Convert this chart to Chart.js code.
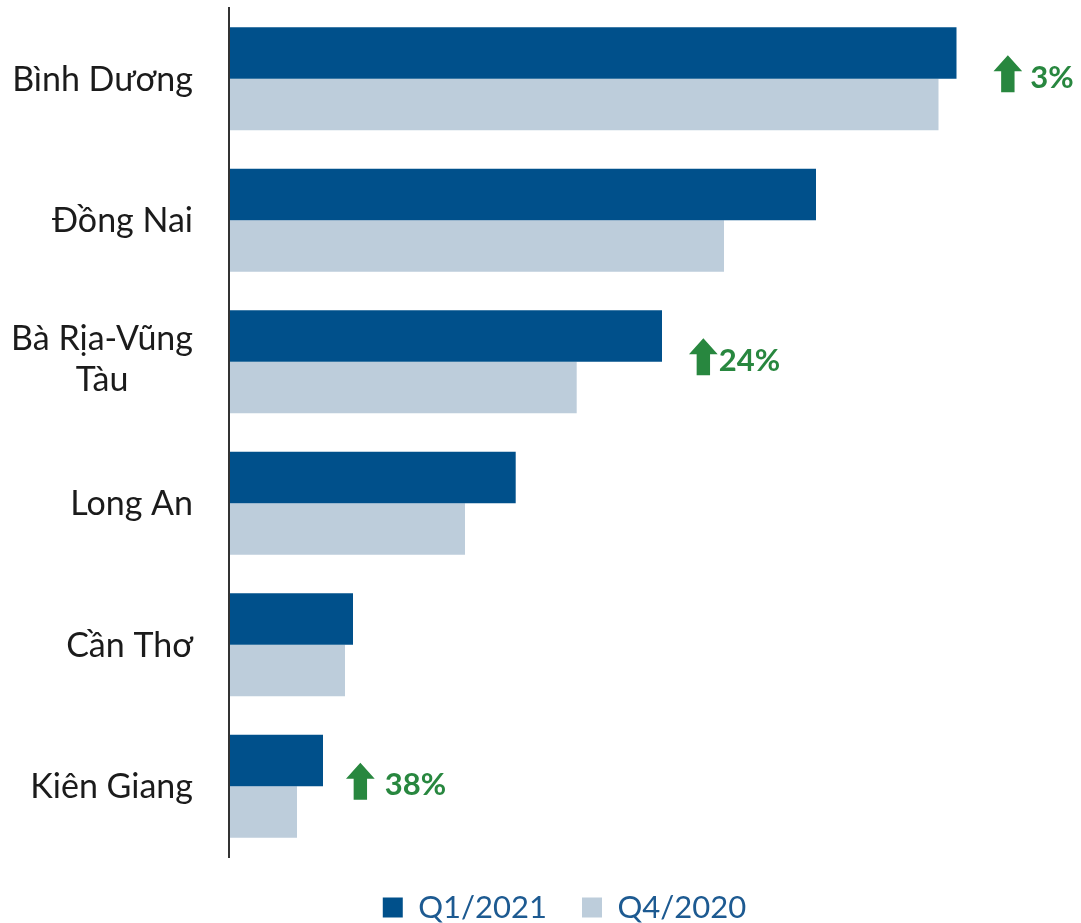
<!DOCTYPE html>
<html><head><meta charset="utf-8">
<script src="https://cdn.jsdelivr.net/npm/chart.js@4"></script>
<style>html,body{margin:0;padding:0;background:#fff;overflow:hidden}
#wrap{width:1081px;height:923px;position:relative}</style></head>
<body><div id="wrap"><canvas id="c" width="1081" height="923"></canvas></div>
<script>
// ---- data ----
const categories = ['Bình Dương', 'Đồng Nai', ['Bà Rịa-Vũng', 'Tàu'], 'Long An', 'Cần Thơ', 'Kiên Giang'];
const seriesNames = ['Q1/2021', 'Q4/2020'];
const q1_2021 = [727.5, 587, 433, 286.7, 124, 94];
const q4_2020 = [709.5, 495, 347.7, 236, 116, 68];
const changeIndex = [0, 2, 5];
const changeText = ['3%', '24%', '38%'];
const axisMax = 852;

// ---- styles ----
const annotationOffsets = [{dx: 37, gap: 8}, {dx: 27, gap: 1}, {dx: 23, gap: 10}];
const DARK = '#00508B', LIGHT = '#BDCDDB', GREEN = '#28873F';

const labelPlugin = {
  id: 'catLabels',
  afterDraw(chart) {
    const ctx = chart.ctx, y = chart.scales.y, left = chart.chartArea.left;
    ctx.save();
    ctx.font = '34px Lato';
    ctx.fillStyle = '#1b1b1b';
    ctx.textBaseline = 'alphabetic';
    chart.data.labels.forEach((lab, i) => {
      const lines = Array.isArray(lab) ? lab : [lab];
      const yc = y.getPixelForValue(i);
      const n = lines.length, lh = 41, shift = n > 1 ? -3 : 0;
      const widest = Math.max(...lines.map(l => ctx.measureText(l).width));
      const xr = left - 36;
      lines.forEach((l, j) => {
        const base = yc + 11.8 + (j - (n - 1) / 2) * lh + shift;
        if (n > 1) { ctx.textAlign = 'center'; ctx.fillText(l, xr - widest / 2, base); }
        else { ctx.textAlign = 'right'; ctx.fillText(l, xr, base); }
      });
    });
    ctx.restore();
  }
};

const changePlugin = {
  id: 'changes',
  afterDatasetsDraw(chart) {
    const ctx = chart.ctx, y = chart.scales.y;
    const m0 = chart.getDatasetMeta(0), m1 = chart.getDatasetMeta(1);
    ctx.save();
    changeIndex.forEach((idx, k) => {
      const off = annotationOffsets[k];
      const xEnd = Math.max(m0.data[idx].x, m1.data[idx].x);
      const yc = y.getPixelForValue(idx);
      const ax = xEnd + off.dx, hw = 28.7, hh = 16, sw = 13.4, th = 37;
      const top = yc - 5 - th / 2;
      const cx = ax + hw / 2;
      ctx.fillStyle = GREEN;
      ctx.beginPath();
      ctx.moveTo(cx, top);
      ctx.lineTo(ax + hw, top + hh);
      ctx.lineTo(cx + sw / 2, top + hh);
      ctx.lineTo(cx + sw / 2, top + th);
      ctx.lineTo(cx - sw / 2, top + th);
      ctx.lineTo(cx - sw / 2, top + hh);
      ctx.lineTo(ax, top + hh);
      ctx.closePath();
      ctx.fill();
      ctx.font = 'bold 31px Lato';
      ctx.textAlign = 'left';
      ctx.textBaseline = 'alphabetic';
      ctx.fillText(changeText[k], ax + hw + off.gap, yc + 9);
    });
    ctx.restore();
  }
};

function draw() {
  new Chart(document.getElementById('c'), {
    type: 'bar',
    data: {
      labels: categories,
      datasets: [
        {label: seriesNames[0], data: q1_2021, backgroundColor: DARK, categoryPercentage: 0.728, barPercentage: 1},
        {label: seriesNames[1], data: q4_2020, backgroundColor: LIGHT, categoryPercentage: 0.728, barPercentage: 1}
      ]
    },
    options: {
      indexAxis: 'y',
      responsive: false,
      animation: false,
      devicePixelRatio: 1,
      layout: {padding: {top: 8, left: 48, right: 0, bottom: -10}},
      scales: {
        x: {display: false, min: 0, max: axisMax},
        y: {
          grid: {display: false, drawTicks: false},
          border: {display: true, color: '#333333', width: 2, z: 1},
          ticks: {display: false},
          afterFit(s) { s.width = 181; }
        }
      },
      plugins: {
        legend: {
          position: 'bottom', align: 'center',
          labels: {boxWidth: 20, boxHeight: 20, padding: 35, color: '#1D5A91', font: {family: 'Lato', size: 31}}
        },
        tooltip: {enabled: false}
      }
    },
    plugins: [labelPlugin, changePlugin]
  });
}
const fontsReady = document.fonts ? Promise.all([document.fonts.load('34px Lato'), document.fonts.load('bold 31px Lato')]).catch(() => {}) : Promise.resolve();
fontsReady.then(draw, draw);
</script>
</body></html>
